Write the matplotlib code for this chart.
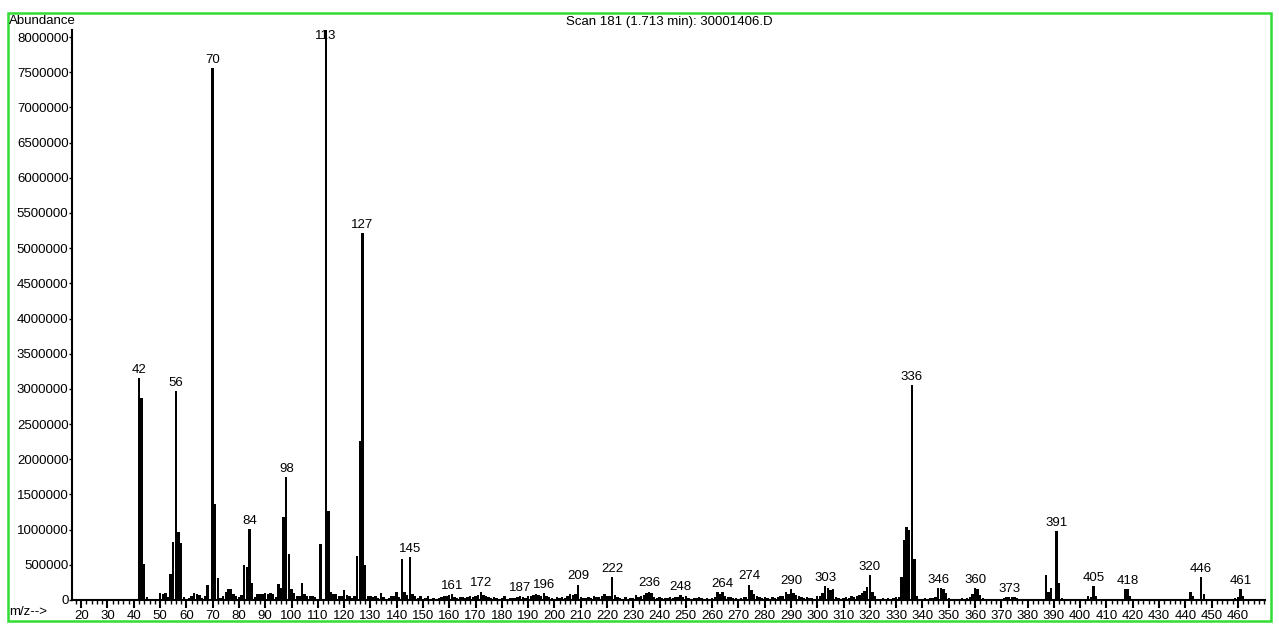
import numpy as np
import matplotlib
matplotlib.use("Agg")
import matplotlib.pyplot as plt
from matplotlib.patches import Rectangle
from matplotlib.ticker import MultipleLocator

plt.rcParams['font.family'] = ['Liberation Sans', 'DejaVu Sans']

# mass spectrum, scan 181
# abundance in thousands, one value per m/z from 40 to 469
mz = np.arange(40, 470)
abund_k = [
    0, 0, 3150, 2870, 510, 40, 20, 0, 0, 0,            # 40
    100, 80, 100, 40, 370, 830, 2970, 960, 810, 40,    # 50
    20, 30, 60, 100, 80, 70, 30, 50, 210, 0,           # 60
    7560, 1360, 310, 30, 50, 110, 150, 160, 90, 50,    # 70
    40, 70, 500, 470, 1010, 240, 40, 90, 80, 90,       # 80
    100, 80, 100, 90, 40, 230, 170, 1180, 1750, 650,   # 90
    150, 100, 60, 60, 240, 90, 60, 60, 50, 40,         # 100
    0, 800, 0, 8100, 1260, 110, 80, 80, 60, 60,        # 110
    140, 70, 50, 30, 60, 620, 2260, 5210, 500, 60,     # 120
    50, 40, 50, 30, 100, 40, 20, 30, 50, 60,           # 130
    120, 40, 580, 120, 70, 610, 90, 50, 30, 50,        # 140
    20, 30, 50, 20, 30, 20, 30, 40, 50, 60,            # 150
    70, 90, 40, 30, 40, 40, 30, 40, 50, 40,            # 160
    60, 70, 120, 70, 50, 40, 30, 40, 30, 20,           # 170
    30, 50, 20, 30, 30, 30, 40, 50, 40, 30,            # 180
    50, 60, 70, 80, 70, 60, 100, 60, 40, 30,           # 190
    20, 40, 30, 40, 30, 50, 80, 70, 80, 220,           # 200
    40, 30, 30, 40, 30, 50, 40, 40, 50, 90,            # 210
    60, 60, 330, 70, 40, 30, 20, 40, 20, 30,           # 220
    30, 70, 40, 50, 70, 100, 120, 100, 40, 30,         # 230
    40, 30, 30, 30, 40, 30, 40, 40, 70, 40,            # 240
    60, 30, 20, 30, 30, 40, 30, 20, 30, 20,            # 250
    30, 40, 110, 90, 110, 50, 40, 40, 30, 30,          # 260
    20, 30, 40, 40, 220, 140, 80, 50, 40, 30,          # 270
    40, 30, 20, 40, 30, 40, 50, 60, 110, 90,           # 280
    150, 100, 70, 60, 40, 30, 40, 30, 30, 20,          # 290
    50, 60, 100, 200, 170, 140, 150, 40, 30, 20,       # 300
    30, 40, 30, 50, 40, 60, 70, 100, 130, 190,         # 310
    360, 120, 50, 20, 20, 30, 20, 30, 20, 30,          # 320
    40, 40, 320, 850, 1040, 1000, 3060, 580, 60, 20,   # 330
    20, 30, 20, 30, 30, 40, 170, 170, 160, 100,        # 340
    30, 20, 20, 20, 20, 30, 20, 30, 40, 80,            # 350
    170, 150, 70, 30, 20, 20, 20, 20, 20, 20,          # 360
    20, 30, 40, 40, 40, 40, 30, 20, 20, 10,            # 370
    20, 10, 20, 10, 20, 20, 20, 350, 110, 170,         # 380
    20, 980, 240, 30, 20, 20, 10, 20, 10, 20,          # 390
    10, 20, 20, 50, 40, 200, 50, 20, 10, 10,           # 400
    10, 10, 10, 10, 10, 20, 20, 150, 160, 50,          # 410
    10, 10, 10, 10, 10, 10, 10, 10, 10, 10,            # 420
    10, 10, 10, 10, 10, 10, 10, 10, 10, 10,            # 430
    10, 20, 120, 60, 10, 10, 320, 80, 20, 10,          # 440
    10, 10, 10, 10, 10, 10, 10, 10, 10, 30,            # 450
    40, 150, 60, 20, 0, 0, 0, 0, 0, 0,                 # 460
]
abund = np.array(abund_k) * 1000

labelled = [42, 56, 70, 84, 98, 113, 127, 145, 161, 172, 187, 196, 209, 222,
            236, 248, 264, 274, 290, 303, 320, 336, 346, 360, 373, 391, 405,
            418, 446, 461]

W, H = 1279, 631
fig = plt.figure(figsize=(W / 100, H / 100), dpi=100)
ax = fig.add_axes([72 / W, 31 / H, (1265 - 72) / W, 570 / H])

ax.bar(mz, abund, width=0.9, color='black', linewidth=0)

fs = 9.5
for m in labelled:
    v = abund[mz == m][0]
    ax.annotate(str(m), (m, min(v, 7.9e6)), xytext=(0, 1.5),
                textcoords='offset points', ha='center', va='bottom',
                fontsize=fs)

ax.set_xlim(16.5, 470.3)
ax.set_ylim(0, 8.1e6)
ax.spines['top'].set_visible(False)
ax.spines['right'].set_visible(False)
ax.xaxis.set_minor_locator(MultipleLocator(2))
ax.set_xticks(np.arange(20, 461, 10))
ax.set_yticks(np.arange(0, 8000001, 500000))
ax.set_yticklabels([str(int(t)) for t in np.arange(0, 8000001, 500000)])
ax.tick_params(axis='x', which='major', length=6, width=1.5, labelsize=fs, pad=1)
ax.tick_params(axis='x', which='minor', length=3, width=1)
ax.tick_params(axis='y', length=2.5, width=1, labelsize=fs, pad=0)
for s in ['left', 'bottom']:
    ax.spines[s].set_linewidth(1.5)

fig.text(9 / W, 1 - 21 / H, 'Abundance', fontsize=fs, va='center', ha='left')
fig.text(9 / W, 1 - 612 / H, 'm/z-->', fontsize=fs, va='center', ha='left')
fig.text(669 / W, 1 - 22 / H, 'Scan 181 (1.713 min): 30001406.D',
         fontsize=fs, va='center', ha='center')

fig.patches.append(Rectangle((8 / W, 1 - 621 / H), (1271 - 8) / W, (621 - 13) / H,
                             transform=fig.transFigure, fill=False,
                             edgecolor='#33dd33', linewidth=1.8))

fig.savefig('out.png', dpi=100)
